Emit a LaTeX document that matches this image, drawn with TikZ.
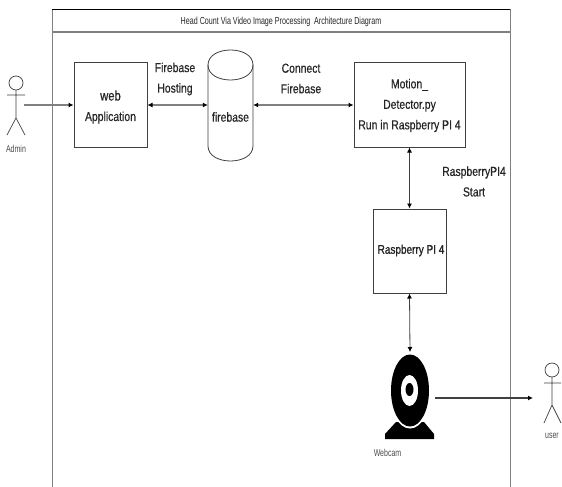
\documentclass[tikz,border=0pt]{standalone}
\usepackage{fontspec}
\setmainfont[FakeStretch=0.8]{Liberation Sans}
\newfontfamily\labelfont[FakeStretch=0.8,FakeBold=0.5]{Liberation Sans}
\newfontfamily\strongfont[FakeStretch=0.8,FakeBold=1.2]{Liberation Sans}
\newfontfamily\titlefont[FakeStretch=0.7]{Liberation Sans}
\usetikzlibrary{arrows.meta,shapes.geometric}
\definecolor{frameg}{gray}{0.5}
\definecolor{linek}{gray}{0.25}
\definecolor{textk}{gray}{0.15}
\tikzset{
  x=1pt,y=-1pt,
  every node/.style={text=textk,font=\labelfont\fontsize{13}{20.5}\selectfont,align=center,inner sep=0pt},
  procbox/.style={draw=linek,line width=1pt,fill=white,minimum width=#1,minimum height=84pt},
  conn/.style={draw=frameg,line width=1.2pt,{Latex[length=5pt,width=5pt,black]}-{Latex[length=5pt,width=5pt,black]}},
  oneway/.style={draw=frameg,line width=1.2pt,-{Latex[length=5pt,width=5pt,black]}},
  stick/.style={draw=linek,line width=0.7pt},
  small/.style={text=black!70,font=\titlefont\fontsize{10}{12}\selectfont},
}
\begin{document}
\begin{tikzpicture}
\useasboundingbox (0,0) rectangle (562,487);
\fill[white] (0,0) rectangle (562,487);
% frame
\draw[frameg,line width=1pt] (52,487) -- (52,10) -- (510,10) -- (510,487);
\draw[black,line width=1pt] (52,10) -- (510,10);
\draw[frameg,line width=1.4pt] (52,32) -- (510,32);
\node[font=\titlefont\fontsize{10.2}{12}\selectfont] (title) at (281,21.5) {Head Count Via Video Image Processing\ \ Architecture Diagram};
% boxes
\node[procbox=73pt] (web) at (110.5,105) {};
\node (webl) at (110.5,107) {\fontsize{14}{21}\selectfont web\\Application};
\node[procbox=111pt] (motion) at (409.5,105) {};
\node (motionl) at (409.5,105.5) {Motion\_\\Detector.py\\Run in Raspberry PI 4};
\node[procbox=73pt] (pi) at (409.5,251) {};
\node (pil) at (411,250.5) {\strongfont\fontsize{12.5}{20}\selectfont Raspberry PI 4};
% cylinder
\node[minimum width=45pt,minimum height=111pt] (fb) at (230.5,105.5) {};
\draw[linek,line width=0.8pt,fill=white] (208,65) .. controls (208,45) and (253,45) .. (253,65)
  -- (253,146) .. controls (253,166) and (208,166) .. (208,146) -- cycle;
\draw[linek,line width=0.8pt] (208,65) .. controls (208,85) and (253,85) .. (253,65);
\node at (230.5,117) (fbl) {firebase};
% webcam
\coordinate (camtop) at (410,352);
\coordinate (camright) at (435,398);
\fill[black] (385,439) -- (385,434) -- (396,422) -- (424,422) -- (434,434) -- (434,439) -- cycle;
\fill[white] (410,390) ellipse (21 and 38.5);
\fill[black] (410,390.5) ellipse (19 and 36);
\fill[white] (409.5,390.5) ellipse (8.5 and 15.5);
\fill[black] (409.5,389.5) ellipse (4 and 6.5);
\node[small] (camlabel) at (387.5,453) {Webcam};
% actors
\draw[stick] (16,83) circle (7);
\draw[stick] (16,90) -- (16,118) (7,95) -- (25,95) (7,135) -- (16,118) -- (25,135);
\node[small] (admin) at (16,149) {Admin};
\coordinate (adminhand) at (24,105);
\draw[stick] (552,370) circle (7);
\draw[stick] (552,377) -- (552,405) (544,383) -- (561,383) (544,423) -- (552,405) -- (561,423);
\node[small] (user) at (552,436) {user};
\coordinate (userhand) at (533,398);
% connectors
\draw[oneway] (adminhand) -- (web.west);
\draw[conn] (web.east) -- (fb.west |- web.east);
\draw[conn] (fb.east |- motion.west) -- (motion.west);
\draw[conn,draw=linek,line width=0.8pt] (motion.south) -- (pi.north);
\draw[conn,draw=linek,line width=0.8pt] (pi.south) -- (camtop);
\draw[oneway,draw=linek] (camright) -- (userhand);
% labels
\node (l1) at (175,79) {Firebase\\Hosting};
\node (l2) at (301,78.5) {Connect\\Firebase};
\node (l3) at (474,181.5) {RaspberryPI4\\Start};
\end{tikzpicture}
\end{document}
